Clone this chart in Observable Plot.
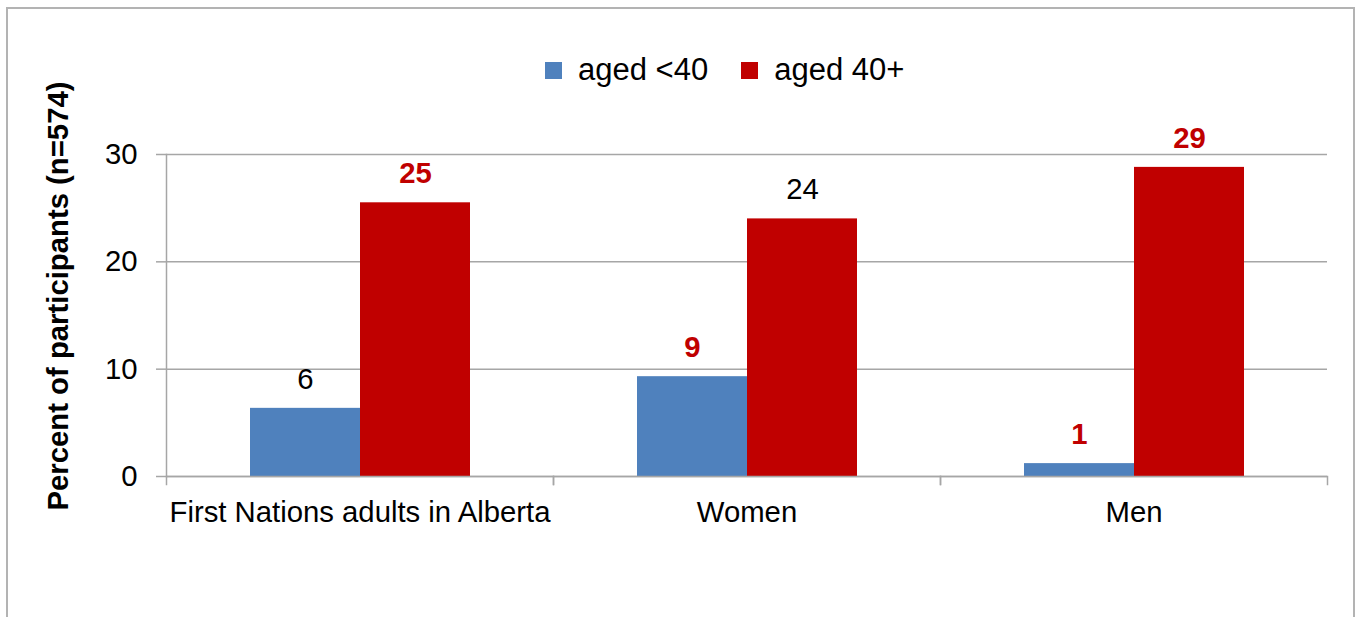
<!DOCTYPE html>
<html><head><meta charset="utf-8">
<script src="https://cdn.jsdelivr.net/npm/d3@7"></script>
<script src="https://cdn.jsdelivr.net/npm/@observablehq/plot@0.6"></script>
<style>
body{margin:0;width:1362px;height:617px;overflow:hidden;background:#fff;font-family:"Liberation Sans",Arial,sans-serif;position:relative}
#border{position:absolute;left:6px;top:7px;width:1349px;height:700px;border:2px solid #b3b3b3;box-sizing:border-box}
#legend{position:absolute;top:52px;left:545px;display:flex;align-items:center;height:36px;font-size:31px;color:#000}
#legend .sw{width:17px;height:17px;margin-right:16px}
#legend .it{display:flex;align-items:center;margin-right:33px}
#ylabel{position:absolute;left:58px;top:296px;transform:translate(-50%,-50%) rotate(-90deg);white-space:nowrap;font-weight:bold;font-size:29.3px;color:#000}
#chart{position:absolute;left:0;top:100px}
</style></head>
<body>
<div id="border"></div>
<div id="legend"></div>
<div id="ylabel"></div>
<div id="chart"></div>
<script>
const groups = ["First Nations adults in Alberta", "Women", "Men"];
const seriesNames = ["aged <40", "aged 40+"];
const under40 = [6.35, 9.3, 1.2];
const over40 = [25.5, 24.0, 28.8];
const under40Labels = ["6", "9", "1"];
const over40Labels = ["25", "24", "29"];
const under40Highlight = [false, true, true];
const over40Highlight = [true, false, true];
const seriesColors = ["#4F81BD", "#C00000"];
const yTicks = [0, 10, 20, 30];
const yTitle = "Percent of participants (n=574)";

const rows = [];
groups.forEach((g, i) => {
  rows.push({group: g, series: seriesNames[0], value: under40[i], label: under40Labels[i], hl: under40Highlight[i]});
  rows.push({group: g, series: seriesNames[1], value: over40[i], label: over40Labels[i], hl: over40Highlight[i]});
});

const legend = document.getElementById("legend");
seriesNames.forEach((s, i) => {
  const it = document.createElement("div");
  it.className = "it";
  const sw = document.createElement("div");
  sw.className = "sw";
  sw.style.background = seriesColors[i];
  const t = document.createElement("span");
  t.textContent = s;
  it.appendChild(sw); it.appendChild(t);
  legend.appendChild(it);
});
document.getElementById("ylabel").textContent = yTitle;

const gridColor = "#a6a6a6";
const fs = 29.3;
const chart = Plot.plot({
  width: 1362,
  height: 517,
  marginTop: 54,
  marginBottom: 141,
  marginLeft: 165,
  marginRight: 34,
  style: {fontFamily: "'Liberation Sans', Arial, sans-serif", background: "transparent"},
  fx: {domain: groups, padding: 0, label: null},
  x: {domain: seriesNames, paddingInner: 0, paddingOuter: 0.748, axis: null},
  y: {domain: [0, 30], label: null},
  color: {domain: seriesNames, range: seriesColors},
  marks: [
    Plot.gridY(yTicks, {stroke: gridColor, strokeOpacity: 1, strokeWidth: 1.5}),
    Plot.frame({anchor: "left", facetAnchor: "left", stroke: gridColor, strokeWidth: 1.5}),
    Plot.frame({anchor: "left", stroke: gridColor, strokeWidth: 1.5, insetTop: 322, insetBottom: -8}),
    Plot.frame({anchor: "right", stroke: gridColor, strokeWidth: 1.5, insetTop: 322, insetBottom: -8}),
    Plot.axisY(yTicks, {tickSize: 10, tickPadding: 19, fontSize: fs, stroke: gridColor, strokeWidth: 1.5, fill: "#000", label: null}),
    Plot.axisFx({anchor: "bottom", tickSize: 0, tickPadding: 25, fontSize: fs, fill: "#000", label: null}),
    Plot.barY(rows, {fx: "group", x: "series", y: "value", fill: "series"}),
    Plot.ruleY([0], {stroke: gridColor, strokeWidth: 1.5}),
    Plot.text(rows.filter(d => !d.hl), {fx: "group", x: "series", y: "value", text: "label", fill: "#000", fontSize: fs, lineAnchor: "middle", dy: -29}),
    Plot.text(rows.filter(d => d.hl), {fx: "group", x: "series", y: "value", text: "label", fill: "#C00000", fontWeight: "bold", fontSize: fs, lineAnchor: "middle", dy: -29})
  ]
});
document.getElementById("chart").appendChild(chart);
</script>
</body></html>
